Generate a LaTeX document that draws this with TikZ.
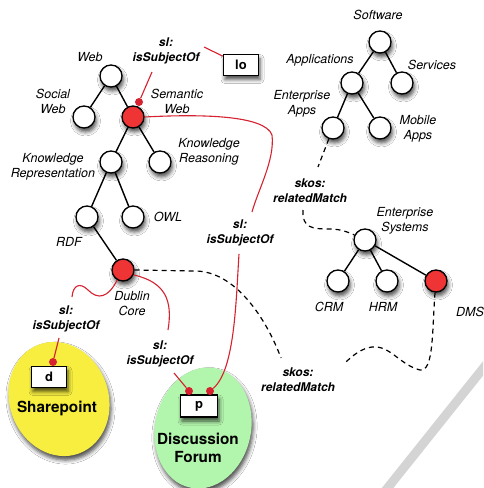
\documentclass[tikz,border=0pt]{standalone}
\usepackage{fontspec}
\newfontfamily\hv{TeX Gyre Heros}
\usetikzlibrary{shadows.blur,shapes.geometric}
\definecolor{nodered}{RGB}{238,52,52}
\definecolor{linkred}{RGB}{214,34,48}
\definecolor{spyellow}{RGB}{247,238,64}
\definecolor{dfgreen}{RGB}{178,245,172}
\definecolor{barfill}{RGB}{212,212,212}
\begin{document}
\begin{tikzpicture}[x=1pt,y=-1pt,
  shade/.style={blur shadow={shadow xshift=1.5pt,shadow yshift=-4pt,shadow blur radius=4pt,shadow opacity=70}},
  concept/.style={circle,draw,line width=1.35pt,fill=white,minimum size=22pt,inner sep=0pt,shade},
  hot/.style={concept,fill=nodered},
  lbl/.style={font=\hv\itshape\fontsize{12.5}{15}\selectfont,align=center,inner sep=0pt},
  rel/.style={font=\hv\bfseries\itshape\fontsize{12}{15}\selectfont,align=center,inner sep=0pt},
  res/.style={draw,line width=1.35pt,fill=white,minimum width=35pt,minimum height=21pt,inner sep=0pt,font=\hv\bfseries\fontsize{13}{15}\selectfont,shade},
  pin/.style={circle,fill=linkred,minimum size=8pt,inner sep=0pt},
  link/.style={linkred,line width=1.1pt},
  skos/.style={dash pattern=on 5pt off 4pt,line width=1.2pt},
  tree/.style={line width=1.4pt},
  big/.style={font=\hv\bfseries\fontsize{15.3}{18.5}\selectfont,align=center,inner sep=0pt}
]
\useasboundingbox (0,0) rectangle (483,488);
\fill[white] (0,0) rectangle (483,488);
% page corner bar
\begin{scope}
\clip (0,0) rectangle (483,488);
\coordinate (barA) at (489,361);
\coordinate (barB) at (382,495);
\draw[barfill,line width=9pt] (barA) -- (barB);
\end{scope}

% resource ellipses
\node[ellipse,fill=spyellow,minimum width=99pt,minimum height=116pt,inner sep=0pt,rotate=20,shade] (sp) at (59,399) {};
\node[ellipse,fill=dfgreen,minimum width=96pt,minimum height=122pt,inner sep=0pt,rotate=-12,shade] (df) at (203,428) {};
\node[big] (sptext) at (57,408) {Sharepoint};
\node[big] (dftext) at (198,448) {Discussion\\Forum};

% resource boxes
\node[res] (lo) at (241,65) {lo};
\node[res] (dbox) at (49,377) {d};
\node[res,minimum width=37pt,minimum height=22pt] (pbox) at (199,406) {p};

% left tree
\node[concept] (web) at (111,76) {};
\node[concept] (socweb) at (84,117) {};
\node[hot] (semweb) at (133,117) {};
\node[concept] (krep) at (111,162) {};
\node[concept] (kreas) at (160,162) {};
\node[concept] (rdf) at (87,217) {};
\node[concept] (owl) at (133,217) {};
\node[hot] (dc) at (123,270) {};
\draw[tree] (web) -- (socweb);
\draw[tree] (web) -- (semweb);
\draw[tree] (semweb) -- (krep);
\draw[tree] (semweb) -- (kreas);
\draw[tree] (krep) -- (rdf);
\draw[tree] (krep) -- (owl);
\draw[tree] (rdf) -- (dc);

% right tree
\node[concept] (sw) at (380,42) {};
\node[concept] (apps) at (352,83) {};
\node[concept] (serv) at (402,83) {};
\node[concept] (eapps) at (333,128) {};
\node[concept] (mapps) at (380,128) {};
\node[concept] (esys) at (365,240) {};
\node[concept] (crm) at (338,281) {};
\node[concept] (hrm) at (387,281) {};
\node[hot] (dms) at (436,281) {};
\draw[tree] (sw) -- (apps);
\draw[tree] (sw) -- (serv);
\draw[tree] (apps) -- (eapps);
\draw[tree] (apps) -- (mapps);
\draw[tree] (esys) -- (crm);
\draw[tree] (esys) -- (hrm);
\draw[tree] (esys) -- (dms);

% concept labels
\node[lbl] (lweb) at (90,57) {Web};
\node[lbl] (lsoc) at (53,101) {Social\\Web};
\node[lbl] (lsem) at (177,101) {Semantic\\Web};
\node[lbl] (lkreas) at (209,152) {Knowledge\\Reasoning};
\node[lbl] (lkrep) at (53,167) {Knowledge\\Representation};
\node[lbl] (lowl) at (168,217) {OWL};
\node[lbl] (lrdf) at (69,242) {RDF};
\node[lbl] (ldc) at (132,304) {Dublin\\Core};
\node[lbl] (lsw) at (378,15) {Software};
\node[lbl] (lapps) at (320,60) {Applications};
\node[lbl] (lserv) at (432,65) {Services};
\node[lbl] (leapps) at (302,104) {Enterprise\\Apps};
\node[lbl] (lmapps) at (418,129) {Mobile\\Apps};
\node[lbl] (lesys) at (405,221) {Enterprise\\Systems};
\node[lbl] (lcrm) at (329,307) {CRM};
\node[lbl] (lhrm) at (383,307) {HRM};
\node[lbl] (ldms) at (470,312) {DMS};

% relation labels
\node[rel] (rtop) at (166,51) {sl:\\isSubjectOf};
\node[rel] (rmid) at (240,233) {sl:\\isSubjectOf};
\node[rel] (rleft) at (66,319) {sl:\\isSubjectOf};
\node[rel] (rbot) at (160,354) {sl:\\isSubjectOf};
\node[rel] (stop) at (310,191) {skos:\\relatedMatch};
\node[rel] (sbot) at (298,380) {skos:\\relatedMatch};

% skos dashed links
\coordinate (eat) at (318,167);
\coordinate (relt) at (303,210);
\coordinate (dmst) at (346,362);
\coordinate (dct) at (281,358);
\draw[skos] (eapps) -- (eat);
\draw[skos] (relt) .. controls (302,228) and (312,229) .. (330,229) .. controls (340,229) and (348,232) .. (esys);
\draw[skos] (dms) .. controls (432,330) and (434,372) .. (420,370) .. controls (400,365) and (390,345) .. (372,347) .. controls (362,348) and (352,356) .. (dmst);
\draw[skos] (dc.east) -- (195,271) .. controls (235,271) and (266,318) .. (dct);

% red subject links
\node[pin] (pinsw) at (139,102) {};
\node[pin] (pind) at (53,362) {};
\node[pin] (pinp1) at (189,391) {};
\node[pin] (pinp2) at (210,391) {};
\coordinate (swtail) at (152,72);
\coordinate (lotail) at (204,47);
\coordinate (mida) at (252,212);
\coordinate (midb) at (239,254);
\coordinate (dcr) at (168,330);
\coordinate (dcr2) at (174,373);
\coordinate (dcl) at (72,297);
\coordinate (dcl2) at (59,338);
\draw[link] (swtail) -- (pinsw);
\draw[link] (lotail) -- (lo);
\draw[link] (semweb.east) .. controls (200,114) and (265,115) .. (272,135) .. controls (275,160) and (258,190) .. (mida);
\draw[link] (midb) .. controls (236,300) and (235,370) .. (pinp2);
\draw[link] (dc.-25) .. controls (165,282) and (173,300) .. (dcr);
\draw[link] (dcr2) -- (pinp1);
\draw[link] (dc.-120) .. controls (108,298) and (98,300) .. (88,290) .. controls (80,282) and (73,285) .. (dcl);
\draw[link] (dcl2) -- (pind);
\end{tikzpicture}
\end{document}
